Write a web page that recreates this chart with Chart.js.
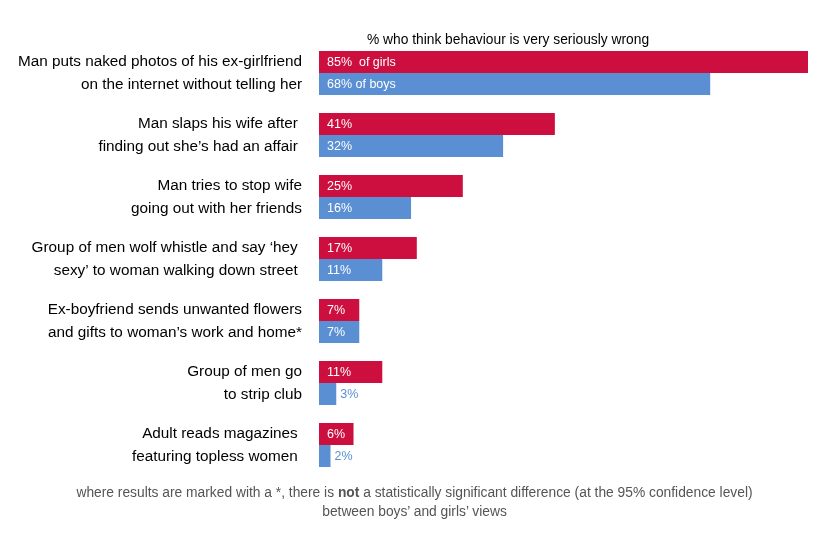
<!DOCTYPE html>
<html lang="en">
<head>
<meta charset="UTF-8">
<title>Seriously wrong behaviour</title>
<script src="https://cdn.jsdelivr.net/npm/chart.js@4.4.0/dist/chart.umd.min.js"></script>
<style>
  body { margin: 0; background: #fff; }
  #wrap { position: relative; width: 829px; height: 535px; }
  #note { position: absolute; left: 0; width: 829px; top: 483px; text-align: center;
          font: 13.8px "Liberation Sans", Arial, sans-serif; color: #555; line-height: 19px; }
</style>
</head>
<body>
<div id="wrap">
  <canvas id="chart"></canvas>
  <div id="note">where results are marked with a *, there is <b>not</b> a statistically significant difference (at the 95% confidence level)<br>between boys’ and girls’ views</div>
</div>
<script>
// categories (each label split in two lines like the original)
const behaviours = [
  ['Man puts naked photos of his ex-girlfriend', 'on the internet without telling her'],
  ['Man slaps his wife after ', 'finding out she’s had an affair '],
  ['Man tries to stop wife', 'going out with her friends'],
  ['Group of men wolf whistle and say ‘hey ', 'sexy’ to woman walking down street '],
  ['Ex-boyfriend sends unwanted flowers', 'and gifts to woman’s work and home*'],
  ['Group of men go', 'to strip club'],
  ['Adult reads magazines ', 'featuring topless women ']
];
const girls = [85, 41, 25, 17, 7, 11, 6];
const boys  = [68, 32, 16, 11, 7, 3, 2];
const girlsSuffix = ['  of girls', '', '', '', '', '', ''];
const boysSuffix  = [' of boys', '', '', '', '', '', ''];
const titleText = '% who think behaviour is very seriously wrong';

const RED = '#cc0f3e';
const BLUE = '#5a8fd3';
const FONT = '"Liberation Sans", Arial, sans-serif';

// value labels drawn inside the bars (or just after them when too short)
const barLabels = {
  id: 'barLabels',
  afterDatasetsDraw(chart) {
    const ctx = chart.ctx;
    ctx.save();
    ctx.font = '12.5px ' + FONT;
    ctx.textBaseline = 'middle';
    ctx.textAlign = 'left';
    chart.data.datasets.forEach((ds, di) => {
      const meta = chart.getDatasetMeta(di);
      meta.data.forEach((bar, i) => {
        const txt = ds.data[i] + '%' + ds.suffix[i];
        const w = ctx.measureText(txt).width;
        const len = bar.x - bar.base;
        if (len >= w + 10) {
          ctx.fillStyle = '#fff';
          ctx.fillText(txt, bar.base + 8, bar.y + 1);
        } else {
          ctx.fillStyle = ds.backgroundColor;
          ctx.fillText(txt, bar.x + 4, bar.y + 1);
        }
      });
    });
    // heading above the bars
    ctx.fillStyle = '#000';
    ctx.font = '13.8px ' + FONT;
    ctx.textAlign = 'center';
    ctx.fillText(titleText, chart.chartArea.left + 189, chart.chartArea.top - 2);
    ctx.restore();
  }
};

new Chart(document.getElementById('chart'), {
  type: 'bar',
  data: {
    labels: behaviours,
    datasets: [
      { label: 'Girls', data: girls, suffix: girlsSuffix, backgroundColor: RED },
      { label: 'Boys', data: boys, suffix: boysSuffix, backgroundColor: BLUE }
    ]
  },
  options: {
    indexAxis: 'y',
    responsive: true,
    maintainAspectRatio: false,
    animation: false,
    layout: { padding: { top: 42, right: 21, bottom: 59, left: 0 } },
    categoryPercentage: 0.71,
    barPercentage: 1,
    plugins: { legend: { display: false }, tooltip: { enabled: false } },
    scales: {
      x: { display: false, min: 0, max: 85 },
      y: {
        grid: { display: false, drawTicks: false },
        border: { display: false },
        ticks: {
          color: '#000',
          padding: 17,
          font: { size: 15.3, family: FONT, lineHeight: 1.5 }
        },
        afterFit(scale) { scale.width = 319; }
      }
    }
  },
  plugins: [barLabels]
});
</script>
</body>
</html>
